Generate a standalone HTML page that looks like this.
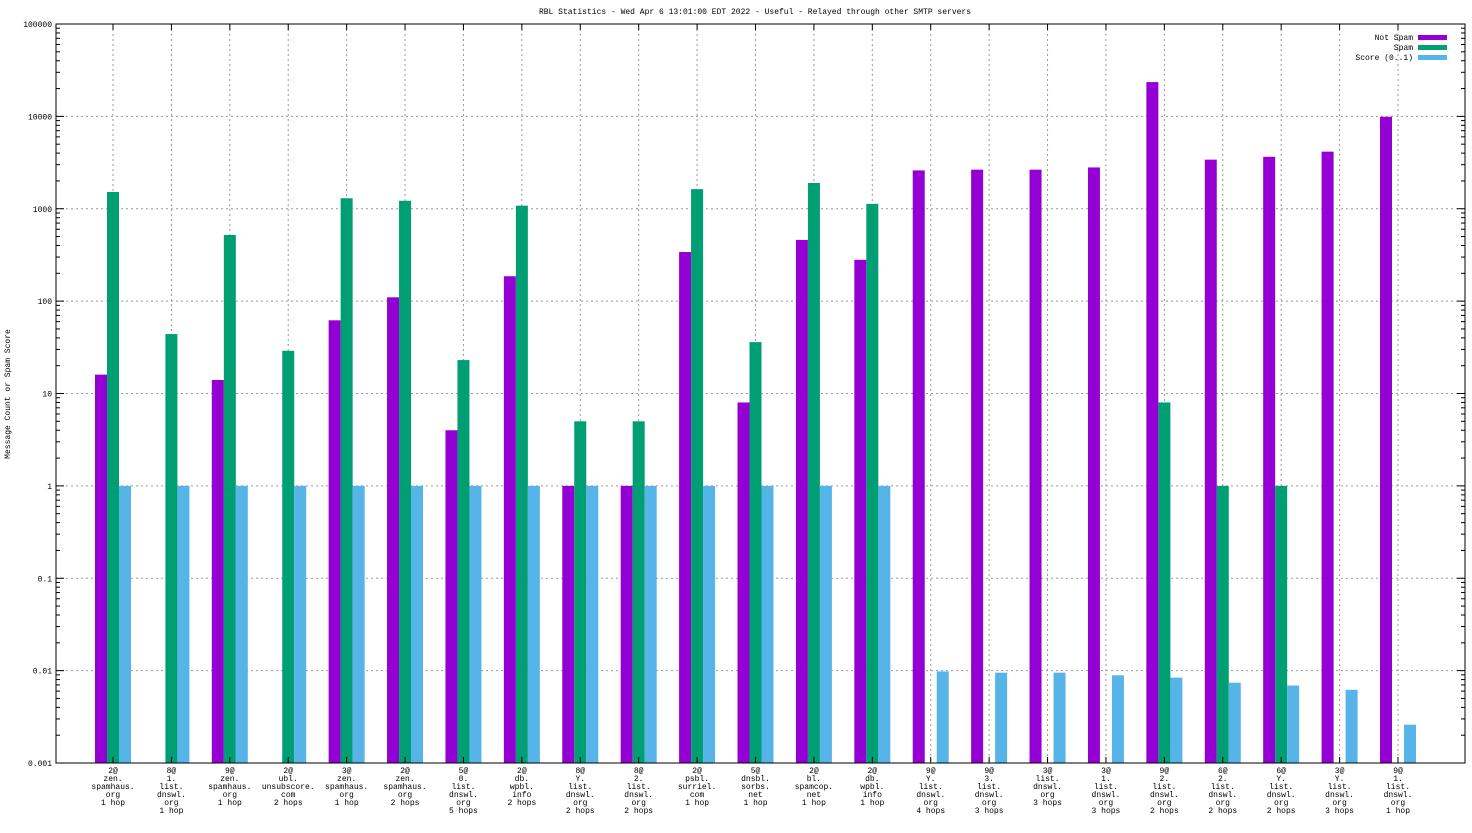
<!DOCTYPE html>
<html><head><meta charset="utf-8"><style>
body{margin:0;background:#fff}
svg text{font-family:"Liberation Mono",monospace;font-size:8px;fill:#000}
</style></head><body>
<svg id="chart" width="1472" height="828" xmlns="http://www.w3.org/2000/svg">
<rect width="1472" height="828" fill="#fff"/>
<text x="755" y="14" text-anchor="middle">RBL Statistics - Wed Apr  6 13:01:00 EDT 2022 - Useful - Relayed through other SMTP servers</text>
<text transform="translate(10,394) rotate(-90)" text-anchor="middle">Message Count or Spam Score</text>
<g id="grid"></g><g id="bars"></g><g id="axes"></g>
</svg>
<script>
const categories=[["2@","zen.","spamhaus.","org","1 hop"],["8@","1.","list.","dnswl.","org","1 hop"],["9@","zen.","spamhaus.","org","1 hop"],["2@","ubl.","unsubscore.","com","2 hops"],["3@","zen.","spamhaus.","org","1 hop"],["2@","zen.","spamhaus.","org","2 hops"],["5@","0.","list.","dnswl.","org","5 hops"],["2@","db.","wpbl.","info","2 hops"],["8@","Y.","list.","dnswl.","org","2 hops"],["8@","2.","list.","dnswl.","org","2 hops"],["2@","psbl.","surriel.","com","1 hop"],["5@","dnsbl.","sorbs.","net","1 hop"],["2@","bl.","spamcop.","net","1 hop"],["2@","db.","wpbl.","info","1 hop"],["9@","Y.","list.","dnswl.","org","4 hops"],["9@","3.","list.","dnswl.","org","3 hops"],["3@","list.","dnswl.","org","3 hops"],["3@","1.","list.","dnswl.","org","3 hops"],["9@","2.","list.","dnswl.","org","2 hops"],["6@","2.","list.","dnswl.","org","2 hops"],["6@","Y.","list.","dnswl.","org","2 hops"],["3@","Y.","list.","dnswl.","org","3 hops"],["9@","1.","list.","dnswl.","org","1 hop"]];
const notSpam=[16,0,14,0,62,110,4,186,1,1,340,8,460,280,2600,2650,2650,2800,23500,3400,3650,4150,9900];
const spam=[1520,44,520,29,1300,1220,23,1080,5,5,1630,36,1900,1130,0,0,0,0,8,1,1,0,0];
const score=[1,1,1,1,1,1,1,1,1,1,1,1,1,1,0.0098,0.0095,0.0095,0.0089,0.0084,0.0074,0.0069,0.0062,0.0026];
const yTicks=[0.001,0.01,0.1,1,10,100,1000,10000,100000];
const yTickLabels=["0.001","0.01","0.1","1","10","100","1000","10000","100000"];
const NS="http://www.w3.org/2000/svg";
const L=56,R=1465,T=24,B=763;
const y=v=>B-(Math.log10(v)+3)/8*(B-T);
const x=i=>113+i*(1398-113)/(categories.length-1);
function mk(tag,attrs,parent){const e=document.createElementNS(NS,tag);for(const k in attrs)e.setAttribute(k,attrs[k]);document.getElementById(parent).appendChild(e);return e;}
yTicks.forEach((t,i)=>{
 const l=mk('line',{x1:L,x2:R,y1:y(t),y2:y(t),stroke:'#999','stroke-dasharray':'2,3','stroke-width':1},'grid');
 
 
 const tx=mk('text',{x:L-4,y:y(t)+3,'text-anchor':'end'},'axes');tx.textContent=yTickLabels[i];
 
 
 if(i<yTicks.length-1)for(let m=2;m<10;m++){const yy=y(t*m);
  mk('line',{x1:L,x2:L+4,y1:yy,y2:yy,stroke:'#000'},'axes');mk('line',{x1:R,x2:R-4,y1:yy,y2:yy,stroke:'#000'},'axes');}
 mk('line',{x1:L,x2:L+8,y1:y(t),y2:y(t),stroke:'#000'},'axes');mk('line',{x1:R,x2:R-8,y1:y(t),y2:y(t),stroke:'#000'},'axes');
});
const series=[[notSpam,'#9400d3',-18,'bar-not-spam'],[spam,'#009e73',-6,'bar-spam'],[score,'#56b4e9',6,'bar-score']];
categories.forEach((c,i)=>{
 const cx=x(i);
 const g=mk('line',{x1:cx,x2:cx,y1:T,y2:B,stroke:'#999','stroke-dasharray':'2,3'},'grid');
 
 
 series.forEach(s=>{const v=s[0][i];if(v>0){const r=mk('rect',{x:cx+s[2],y:y(v),width:12,height:B-y(v),fill:s[1]},'bars');
  
  }});
 const t=mk('text',{x:cx,y:773,'text-anchor':'middle'},'axes');
 
 
 c.forEach((ln,k)=>{const sp=document.createElementNS(NS,'tspan');sp.setAttribute('x',cx);sp.setAttribute('dy',k?8:0);sp.textContent=ln;t.appendChild(sp);});
 mk('line',{x1:cx,x2:cx,y1:B,y2:B-6,stroke:'#000'},'axes');mk('line',{x1:cx,x2:cx,y1:T,y2:T+6,stroke:'#000'},'axes');
});
const fr=mk('rect',{x:L,y:T,width:R-L,height:B-T,fill:'none',stroke:'#000'},'axes');


const legendNames=["Not Spam","Spam","Score (0..1)"];
legendNames.forEach((n,i)=>{
 const ly=37+i*10;
 const t=mk('text',{x:1413,y:ly+3,'text-anchor':'end'},'axes');t.textContent=n;
 
 
 const r=mk('rect',{x:1418,y:ly-2,width:29,height:5,fill:series[i][1]},'axes');
 
 
});
</script>
</body></html>
